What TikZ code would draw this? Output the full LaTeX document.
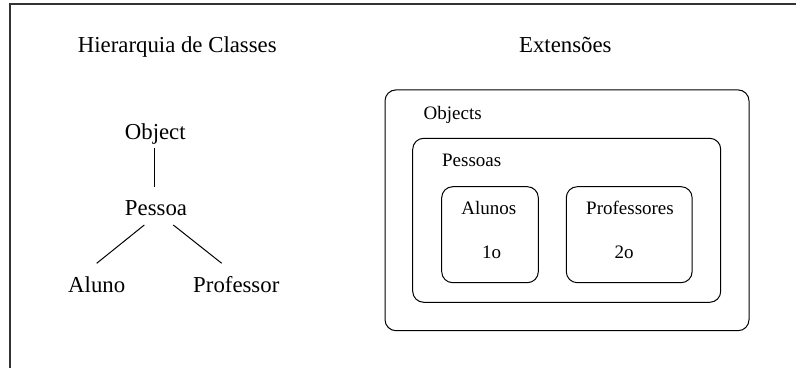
\documentclass[tikz,border=0pt]{standalone}
\usepackage{fontspec}
\setmainfont{Liberation Serif}
\begin{document}
\begin{tikzpicture}[x=0.5pt,y=-0.5pt,
  big/.style={inner sep=0pt,anchor=base,font=\fontsize{11.4}{13}\selectfont},
  small/.style={inner sep=0pt,anchor=base,font=\fontsize{9.5}{11}\selectfont},
  setbox/.style={draw,line width=0.5pt,rounded corners=5.5pt,inner sep=0pt},
  edge/.style={line width=0.5pt}]
\useasboundingbox (0,0) rectangle (796,368);
% page frame
\draw[line width=0.6pt,black!80] (10,372) -- (10,4) -- (800,4);

% headings
\node[big] (hhier) at (177.3,52.3) {Hierarquia de Classes};
\node[big] (hext)  at (565.3,52.3) {Extensões};

% class hierarchy
\node[big] (obj)  at (155.3,139.3) {Object};
\node[big] (pes)  at (156,216)     {Pessoa};
\node[big] (alu)  at (96.7,292.3)  {Aluno};
\node[big] (prof) at (236.3,292.3) {Professor};
\draw[edge] ([shift={(-1.3,9)}]obj.base) -- ([shift={(-2,-29.3)}]pes.base);
\draw[edge] ([shift={(-11.7,9)}]pes.base) -- ([shift={(0,-29)}]alu.base);
\draw[edge] ([shift={(17.3,9)}]pes.base) -- ([shift={(-14.6,-29)}]prof.base);

% extension sets
\node[setbox,minimum width=182pt,minimum height=120.4pt] (sobj) at (567,210.3) {};
\node[setbox,minimum width=154pt,minimum height=82pt]    (spes) at (566.7,220.3) {};
\node[setbox,minimum width=48.3pt,minimum height=48pt]   (salu) at (490,234.7) {};
\node[setbox,minimum width=62.9pt,minimum height=48pt]   (sprof) at (629.2,234.7) {};

\node[small,anchor=base west] (lobj) at (423.3,119.3) {Objects};
\node[small,anchor=base west] (lpes) at (441.7,166.7) {Pessoas};
\node[small] (lalu)  at (488.8,215)   {Alunos};
\node[small] (nalu)  at (491.7,258.3) {1o};
\node[small] (lprof) at (630,215)     {Professores};
\node[small] (nprof) at (624,258.3)   {2o};
\end{tikzpicture}
\end{document}
